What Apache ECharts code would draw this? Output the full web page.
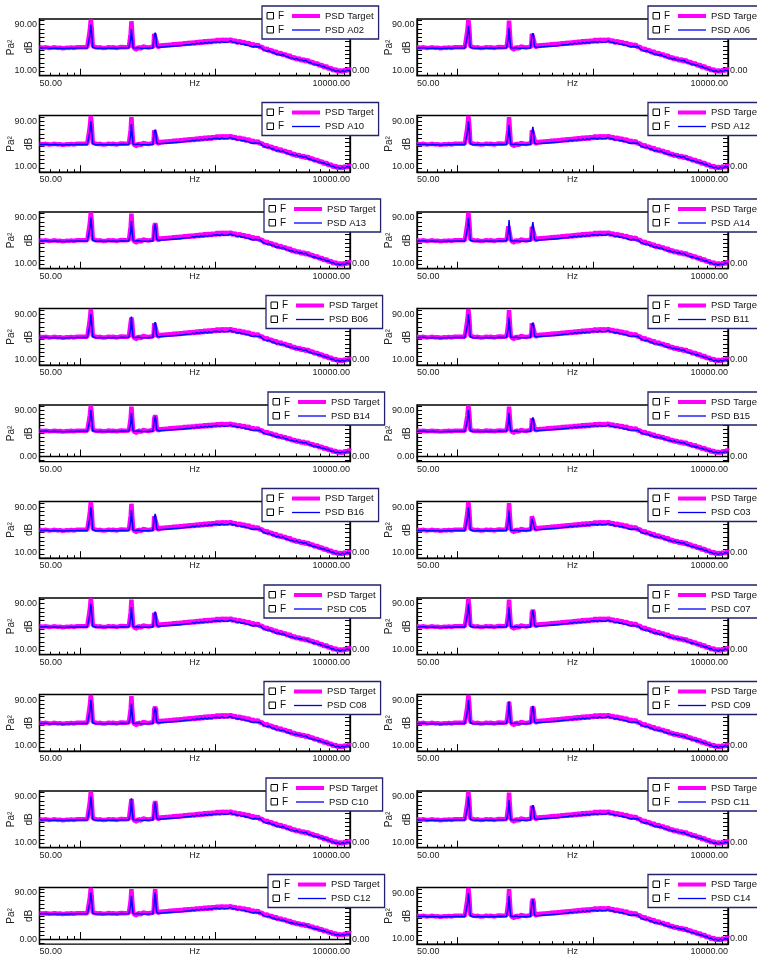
<!DOCTYPE html>
<html>
<head>
<meta charset="utf-8">
<script src="https://cdn.jsdelivr.net/npm/echarts@6/dist/echarts.min.js"></script>
<style>html,body{margin:0;padding:0;background:#fff}#main{width:757px;height:961px}</style>
</head>
<body>
<div id="main"></div>
<script>
// frequency grid (Hz), shared by all panels
var freqHz = [50,53,56,59,62,65,68,71,74,77,80,83,86,89,92,95,98,101,104,107,110,
    113,116,118,120,122,124,127,
    131,136,141,146,151,157,163,169,175,181,188,195,202,209,216,223,230,
    234,237,240,243,247,
    252,258,264,270,277,284,291,298,306,314,322,330,338,346,
    350,354,360,365,368,372,
    376,385,395,405,416,428,440,453,466,480,495,510,526,543,560,578,597,617,638,660,
    683,707,732,758,785,813,842,872,903,935,968,1000,1040,1080,1120,1160,1200,1250,1300,1350,
    1400,1460,1520,1580,1640,1700,1770,1840,1910,1990,2070,2150,2240,2330,2420,2520,2620,2720,2830,2940,
    3060,3180,3310,3440,3580,3720,3870,4020,4180,4350,4520,4700,4890,5080,5280,5490,5710,5940,6180,6420,
    6680,6950,7220,7510,7810,8120,8450,8780,9130,9500,9880,10000];

// PSD Target (dB)
var targetDb = [50,49.5,50,49,49.5,50,49,49.5,48.5,49,49.5,49,50,49,49.5,50,49,50,49.5,50,51,
    50,52,80,99,82,52,50,
    50,49.5,50,49,50,49.5,50.5,49.5,50,50.5,49,50,50.5,49.5,50,51,50.5,
    52,75,96,76,52,
    48,50.5,46,51,49.5,47.5,51.5,49,50.5,48,49.5,50.5,51,50,
    51,74,77,74,60,52,
    53.5,50.5,55,51,55.5,51.5,56,52,56.5,52.5,57,53,57.5,53.5,58,54,59,54.5,59.5,55,
    60,55.5,61,56,61.5,56.5,62.5,57,63,57.5,63.5,58.5,64.5,59,65,59.5,64.5,60,65,59,
    63.5,57.5,62,56.5,60.5,54.5,59,52.5,56.5,51.5,55.5,50,51,45,48.5,43,46,40,43.5,37.5,
    41,36,38.5,33,36.5,30,33.5,28,31.5,26,29.5,24.5,28,22.5,25,19.5,23,17,20,14,
    17.5,11.5,14.5,8.5,12,6.5,10,6.5,11,8,13,11];

// measured PSD (dB)
var measuredDb = [49,49,49.5,48.5,48.5,49,48.5,48.5,48,48,48.5,48.5,49,48.5,48.5,49,48.5,49,48.5,49,49.5,
    49,50,70,90,72,50,48.5,
    48.5,48.5,49,48.5,49,48.5,49,48.5,49,49.5,48.5,49,49.5,48.5,49,49.5,49.5,
    50,65,82,66,49.5,
    48.5,49,48,49.5,48.5,48.5,49.5,48.5,49,48.5,48.5,49,49.5,49,
    50,70,76,70,55,51,
    51,50,51.5,50.5,52.5,51,52.5,51.5,53,52,53.5,52.5,54,53,54.5,53.5,55.5,54.5,56,55,
    56.5,55.5,57.5,56,58,56.5,58.5,57,59,57.5,59.5,58,60,58.5,60.5,59,61,59.5,61.5,59,
    59,57,57.5,55.5,56,54,53.5,52,50.5,52,50.5,51.5,47,45,43,44.5,41,41.5,37.5,39,
    36,37.5,34.5,34,31,32,29,30.5,27.5,28.5,26,27.5,23.5,23.5,20.5,21,18.5,19,16,16.5,
    13.5,14,10.5,11,7.5,9,6.5,9,7,10,8.5,11];

var panelNames = ['A02','A06','A10','A12','A13','A14','B06','B11','B14','B15',
    'B16','C03','C05','C07','C08','C09','C10','C11','C12','C14'];

// tonal peaks, per panel
var peakHz = [120, 240, 360];
var targetPeaks = [[99,96,77],[99,97,76],[99,97,76],[99,97,72],[99,97,80],[99,78,72],[99,84,74],[99,97,76],[99,97,80],[99,97,74],
    [99,96,74],[99,97,74],[99,97,77],[99,97,79],[99,97,78],[99,87,78],[99,86,82],[99,97,75],[99,97,97],[99,97,80]];
var measuredPeaks = [[90,82,76],[88,84,75],[90,85,75],[90,83,80],[90,84,79],[90,86,82],[90,86,76],[90,84,75],[90,85,78],[90,85,76],
    [90,85,78],[90,84,73],[90,84,76],[90,84,78],[90,84,77],[90,88,80],[90,87,80],[90,84,75],[90,84,90],[90,85,79]];

// y axis range / labels
var yMins = [0,0,0,0,0,0,0,0,-10,-10,0,0,0,0,0,0,0,0,-10,0];
var yMax = 100;
var lowLabels = [10,10,10,10,10,10,10,10,0,0,10,10,10,10,10,10,10,10,0,10];
var highLabel = 90;
var yTickValues = [-7.5,0,7.5,15,22.5,30,37.5,45,52.5,60,67.5,75,82.5,90,97.5];
var xMinorTicks = [60,70,80,90,200,300,400,500,600,700,800,900,2000,3000,4000,5000,6000,7000,8000,9000];
var xMajorTicks = [100,1000];
var xLabelValues = [50,10000];

// layout
var colLeft = [39.5, 417];
var colWidth = [310.5, 311];
var rowTop = 19, rowStep = 96.5, plotH = 56.7;
var legendLeft = [[262,262,264,266,268,262,264,264,266,268],[648,648,648,648,648,648,648,648,648,648]];
var FONT = 'Liberation Sans';

var myChart = echarts.init(document.getElementById('main'));

function buildData(base, peaks) {
    var vals = base.slice();
    for (var k = 0; k < peakHz.length; k++) {
        vals[freqHz.indexOf(peakHz[k])] = peaks[k];
    }
    var out = [];
    for (var i = 0; i < freqHz.length; i++) {
        out.push([freqHz[i], vals[i]]);
    }
    return out;
}

function fmt2(v) { return Number(v).toFixed(2); }

function buildOption() {
    var grids = [], xAxes = [], yAxes = [], series = [], legends = [], graphics = [];

    for (var i = 0; i < panelNames.length; i++) {
        var row = Math.floor(i / 2), col = i % 2;
        var gTop = rowTop + row * rowStep;
        var ymin = yMins[i];
        var low = lowLabels[i];
        var ticks = yTickValues.filter(function (v) { return v > ymin && v < yMax; });

        grids.push({
            left: colLeft[col], top: gTop, width: colWidth[col], height: plotH,
            show: true, borderColor: '#000', borderWidth: 1.3,
            containLabel: false, outerBoundsMode: 'none'
        });

        xAxes.push({
            gridIndex: i, type: 'log', logBase: 10, min: 50, max: 10000, position: 'bottom',
            name: 'Hz', nameLocation: 'middle', nameGap: 3, nameMoveOverlap: false,
            nameTextStyle: {fontSize: 9, color: '#222', fontFamily: FONT, verticalAlign: 'top'},
            axisLine: {show: true, lineStyle: {color: '#000', width: 1.3}},
            axisTick: {show: true, inside: true, length: 3, customValues: xMinorTicks, lineStyle: {color: '#000', width: 1}},
            axisLabel: {
                show: true, customValues: xLabelValues, margin: 3, fontSize: 9, color: '#222', fontFamily: FONT,
                alignMinLabel: 'left', alignMaxLabel: 'right', formatter: fmt2
            },
            splitLine: {show: false}
        });
        // decade ticks (taller)
        xAxes.push({
            gridIndex: i, type: 'log', logBase: 10, min: 50, max: 10000, position: 'bottom',
            axisLine: {show: false},
            axisTick: {show: true, inside: true, length: 7, customValues: xMajorTicks, lineStyle: {color: '#000', width: 1}},
            axisLabel: {show: false}, splitLine: {show: false}
        });

        yAxes.push({
            gridIndex: i, type: 'value', min: ymin, max: yMax, position: 'left',
            name: 'Pa\u00b2\ndB', nameLocation: 'middle', nameRotate: 90, nameGap: 1, nameMoveOverlap: false,
            nameTextStyle: {fontSize: 10, lineHeight: 18, color: '#222', fontFamily: FONT},
            axisLine: {show: true, lineStyle: {color: '#000', width: 1.3}},
            axisTick: {show: true, inside: true, length: 5, customValues: ticks, lineStyle: {color: '#000', width: 1}},
            axisLabel: {
                show: true, customValues: [low, highLabel], margin: 2.5, fontSize: 9, color: '#222', fontFamily: FONT,
                formatter: fmt2
            },
            splitLine: {show: false}
        });
        yAxes.push({
            gridIndex: i, type: 'value', min: ymin, max: yMax, position: 'right',
            axisLine: {show: true, lineStyle: {color: '#000', width: 1.3}},
            axisTick: {show: true, inside: true, length: 5, customValues: ticks, lineStyle: {color: '#000', width: 1}},
            axisLabel: {
                show: true, customValues: [low], margin: low === 0 ? 2 : -3,
                fontSize: 9, color: '#222', fontFamily: FONT,
                // leading "1" sits under the frame in the original
                formatter: function (v) { return Number(v) === 0 ? '0.00' : '{h|1}0.00'; },
                rich: {h: {color: 'rgba(0,0,0,0)', fontSize: 9, fontFamily: FONT}}
            },
            splitLine: {show: false}
        });

        series.push({
            name: 'PSD Target', type: 'line', xAxisIndex: 2 * i, yAxisIndex: 2 * i,
            data: buildData(targetDb, targetPeaks[i]),
            symbol: 'none', lineStyle: {color: '#ff00ff', width: 4.5}, itemStyle: {color: '#ff00ff'},
            z: 2, silent: true
        });
        series.push({
            name: 'PSD ' + panelNames[i], type: 'line', xAxisIndex: 2 * i, yAxisIndex: 2 * i,
            data: buildData(measuredDb, measuredPeaks[i]),
            symbol: 'none', lineStyle: {color: '#0000ff', width: 1.5}, itemStyle: {color: '#0000ff'},
            z: 3, silent: true
        });

        var lx = legendLeft[col][row], ly = gTop - 13;
        legends.push({
            orient: 'vertical', left: lx, top: ly,
            data: [
                {name: 'PSD Target', lineStyle: {width: 4, color: '#ff00ff'}},
                {name: 'PSD ' + panelNames[i], lineStyle: {width: 1.3, color: '#0000ff'}}
            ],
            itemWidth: 28, itemHeight: 12, itemGap: 2, selectedMode: false,
            padding: [4, 5, 3, 28],
            backgroundColor: '#fff', borderColor: '#22226e', borderWidth: 1.3,
            // hide the dot the line icon would carry
            itemStyle: {color: 'rgba(0,0,0,0)', borderWidth: 0, opacity: 0},
            textStyle: {fontSize: 9.5, lineHeight: 12, color: '#111', fontFamily: FONT}
        });
        for (var r = 0; r < 2; r++) {
            var cy = ly + 10 + r * 14;
            graphics.push({
                type: 'rect', z: 100,
                shape: {x: lx + 5, y: cy - 3.5, width: 6.5, height: 6.5},
                style: {fill: '#fff', stroke: '#000', lineWidth: 1}
            });
            graphics.push({
                type: 'text', z: 100, x: lx + 16, y: cy,
                style: {text: 'F', fontSize: 10, fontFamily: FONT, fill: '#111', verticalAlign: 'middle'}
            });
        }
    }

    return {
        animation: false,
        backgroundColor: '#fff',
        textStyle: {fontFamily: FONT},
        grid: grids,
        xAxis: xAxes,
        yAxis: yAxes,
        legend: legends,
        series: series,
        graphic: graphics
    };
}

myChart.setOption(buildOption());
</script>
</body>
</html>
